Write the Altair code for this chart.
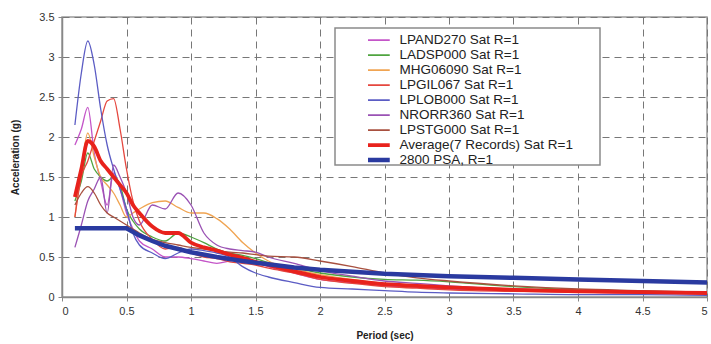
import altair as alt
import pandas as pd

# Periods (sec) at which the record spectra are sampled
periods = [0.1, 0.15, 0.2, 0.25, 0.3, 0.35, 0.4, 0.45, 0.5, 0.55, 0.6, 0.7, 0.8, 0.9,
           1.0, 1.1, 1.2, 1.3, 1.4, 1.5, 1.6, 1.8, 2.0, 2.25, 2.5, 2.75, 3.0, 3.5,
           4.0, 4.5, 5.0]

lpand270 = [1.9, 2.1, 2.37, 1.8, 1.45, 1.15, 1.55, 1.35, 1.05, 0.85, 0.7, 0.6, 0.5, 0.5,
            0.48, 0.45, 0.42, 0.45, 0.48, 0.45, 0.38, 0.3, 0.22, 0.18, 0.14, 0.12, 0.1,
            0.08, 0.06, 0.05, 0.04]
ladsp000 = [1.2, 1.45, 1.8, 1.6, 1.5, 1.45, 1.5, 1.4, 1.1, 0.95, 0.85, 0.75, 0.7, 0.8,
            0.75, 0.68, 0.6, 0.55, 0.52, 0.48, 0.43, 0.36, 0.3, 0.25, 0.22, 0.21, 0.19,
            0.13, 0.09, 0.07, 0.06]
mhg06090 = [1.0, 1.6, 2.05, 1.75, 1.5, 1.4, 1.3, 1.15, 1.0, 1.05, 1.1, 1.18, 1.2, 1.12,
            1.05, 1.05, 0.98, 0.85, 0.68, 0.55, 0.45, 0.35, 0.28, 0.22, 0.17, 0.15, 0.13,
            0.1, 0.08, 0.06, 0.05]
lpgil067 = [1.0, 1.5, 1.7, 1.95, 2.2, 2.45, 2.48, 2.1, 1.6, 1.2, 0.95, 0.72, 0.6, 0.62,
            0.55, 0.5, 0.48, 0.44, 0.42, 0.4, 0.36, 0.3, 0.22, 0.17, 0.13, 0.11, 0.09,
            0.07, 0.06, 0.05, 0.04]
lplob000 = [2.15, 2.8, 3.2, 2.9, 2.35, 1.9, 1.6, 1.35, 1.1, 0.8, 0.65, 0.55, 0.48, 0.55,
            0.6, 0.58, 0.55, 0.5, 0.38, 0.3, 0.25, 0.18, 0.12, 0.1, 0.08, 0.06, 0.05,
            0.04, 0.03, 0.03, 0.02]
nrorr360 = [0.62, 0.9, 1.2, 1.35, 1.5, 1.05, 1.65, 1.5, 1.3, 1.0, 0.9, 1.15, 1.1, 1.3,
            1.15, 0.8, 0.65, 0.6, 0.58, 0.56, 0.5, 0.42, 0.33, 0.26, 0.2, 0.17, 0.14,
            0.1, 0.08, 0.06, 0.05]
lpstg000 = [1.15, 1.3, 1.38, 1.3, 1.15, 1.05, 1.0, 0.95, 0.9, 0.85, 0.8, 0.72, 0.68, 0.65,
            0.62, 0.6, 0.58, 0.56, 0.55, 0.53, 0.51, 0.5, 0.45, 0.38, 0.3, 0.24, 0.2,
            0.14, 0.1, 0.08, 0.06]
average7 = [1.25, 1.6, 1.95, 1.88, 1.7, 1.6, 1.5, 1.4, 1.3, 1.15, 1.05, 0.88, 0.8, 0.8,
            0.68, 0.62, 0.58, 0.53, 0.49, 0.44, 0.4, 0.32, 0.25, 0.2, 0.16, 0.14, 0.12,
            0.09, 0.07, 0.06, 0.05]

# Standard 2800 design spectrum
psa_periods = [0.1, 0.5, 0.6, 0.7, 0.8, 0.9, 1.0, 1.2, 1.4, 1.6, 1.8, 2.0, 2.5, 3.0,
               3.5, 4.0, 4.5, 5.0]
psa_values = [0.86, 0.86, 0.77, 0.7, 0.64, 0.6, 0.56, 0.5, 0.45, 0.41, 0.37, 0.34, 0.29,
              0.26, 0.24, 0.22, 0.2, 0.18]

series_names = ["LPAND270 Sat R=1", "LADSP000 Sat R=1", "MHG06090 Sat R=1",
                "LPGIL067  Sat R=1", "LPLOB000 Sat R=1", "NRORR360 Sat R=1",
                "LPSTG000 Sat R=1", "Average(7 Records) Sat R=1", "2800 PSA, R=1"]
series_colors = ["#c455c8", "#4fa43f", "#f0a452", "#e5473e", "#5b5cc4", "#9a52b4",
                 "#a8503f", "#e8221c", "#2a3aa0"]

record_values = [lpand270, ladsp000, mhg06090, lpgil067, lplob000, nrorr360, lpstg000]

rows = []
for name, vals in zip(series_names[:7], record_values):
    for t, a in zip(periods, vals):
        rows.append({"series": name, "period": t, "acc": a, "kind": "record"})
for t, a in zip(periods, average7):
    rows.append({"series": series_names[7], "period": t, "acc": a, "kind": "average"})
for t, a in zip(psa_periods, psa_values):
    rows.append({"series": series_names[8], "period": t, "acc": a, "kind": "psa"})
df = pd.DataFrame(rows)

x_enc = alt.X("period:Q", scale=alt.Scale(domain=[0, 5], nice=False),
              axis=alt.Axis(values=[0, 0.5, 1, 1.5, 2, 2.5, 3, 3.5, 4, 4.5, 5],
                            labelExpr="format(datum.value, '~g')",
                            title="Period (sec)"))
y_enc = alt.Y("acc:Q", scale=alt.Scale(domain=[0, 3.5], nice=False),
              axis=alt.Axis(values=[0, 0.5, 1, 1.5, 2, 2.5, 3, 3.5],
                            labelExpr="format(datum.value, '~g')",
                            title="Acceleration (g)"))

# Thicker legend strokes for the average and the design spectrum
symbol_width = ("datum.value === 'Average(7 Records) Sat R=1' ? 3.8 : "
                "datum.value === '2800 PSA, R=1' ? 4.5 : 1.6")
color_enc = alt.Color("series:N",
                      scale=alt.Scale(domain=series_names, range=series_colors),
                      legend=alt.Legend(title=None, orient="none", legendX=306,
                                        legendY=16, symbolType="stroke",
                                        symbolSize=900, clipHeight=14.2,
                                        labelFontSize=13.5, labelLimit=320,
                                        labelFont="Liberation Sans", labelColor="#222",
                                        rowPadding=0, padding=0, labelOffset=18,
                                        symbolStrokeWidth={"expr": symbol_width}))

base = alt.Chart(df).encode(x=x_enc, y=y_enc, color=color_enc, detail="series:N")

records = base.transform_filter("datum.kind === 'record'").mark_line(
    interpolate="monotone", strokeWidth=1.3)
average = base.transform_filter("datum.kind === 'average'").mark_line(
    interpolate="monotone", strokeWidth=3.8)
psa = base.transform_filter("datum.kind === 'psa'").mark_line(strokeWidth=4.5)

# Legend frame
frame = alt.Chart(pd.DataFrame({"k": [0]})).mark_rect(
    fill="white", stroke="#8a8a8a", strokeWidth=1.5
).encode(x=alt.value(273), x2=alt.value(538), y=alt.value(11), y2=alt.value(148))

chart = alt.layer(frame, records, average, psa).properties(
    width=645, height=280,
    padding={"left": 62, "top": 17, "right": 4, "bottom": 47},
    autosize=alt.AutoSizeParams(type="none"),
    background="white",
).configure_view(stroke="#9a9a9a", strokeWidth=1.5).configure_axis(
    grid=True, gridColor="#777", gridDash=[7, 5], gridWidth=1,
    domainColor="#888", domainWidth=1.5, tickColor="#888", tickSize=4,
    labelFont="Liberation Sans", labelFontSize=11, labelColor="#333",
    titleFont="Liberation Sans", titleFontSize=10, titleFontWeight="bold",
    titleColor="#222",
).configure_axisX(labelPadding=4, titlePadding=14).configure_axisY(
    labelPadding=4, titlePadding=18)

chart.save("out.html", embed_options={"renderer": "svg", "actions": False})
